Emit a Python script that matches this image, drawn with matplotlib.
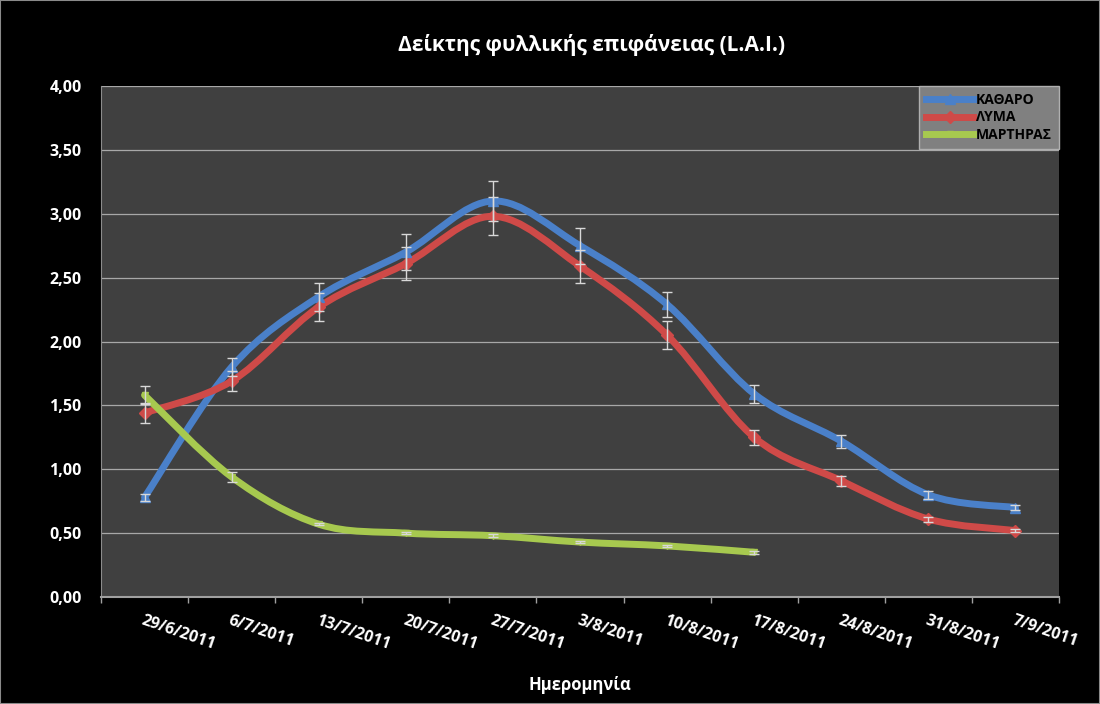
import numpy as np
import matplotlib.pyplot as plt
from matplotlib.path import Path
from matplotlib.patches import PathPatch, Rectangle
from matplotlib.lines import Line2D
from matplotlib.ticker import FuncFormatter, FixedLocator

dates = ['29/6/2011', '6/7/2011', '13/7/2011', '20/7/2011', '27/7/2011', '3/8/2011',
         '10/8/2011', '17/8/2011', '24/8/2011', '31/8/2011', '7/9/2011']

katharo = [0.78, 1.80, 2.35, 2.70, 3.10, 2.75, 2.29, 1.59, 1.22, 0.80, 0.70]
katharo_err = [0.03, 0.07, 0.11, 0.14, 0.16, 0.14, 0.10, 0.07, 0.05, 0.03, 0.02]
lyma = [1.44, 1.69, 2.27, 2.61, 2.98, 2.59, 2.05, 1.25, 0.91, 0.61, 0.52]
lyma_err = [0.08, 0.08, 0.11, 0.13, 0.15, 0.13, 0.11, 0.06, 0.04, 0.02, 0.01]
martiras = [1.58, 0.94, 0.57, 0.50, 0.48, 0.43, 0.40, 0.35]
martiras_err = [0.07, 0.04, 0.01, 0.01, 0.01, 0.01, 0.01, 0.01]

FONT = ['Open Sans', 'DejaVu Sans']
plt.rcParams['font.family'] = FONT
plt.rcParams['font.weight'] = 'bold'


def smooth_path(x, y):
    # excel style smoothed line as cubic bezier segments
    pts = np.column_stack([x, y]).astype(float)
    n = len(pts)
    verts = [pts[0]]
    codes = [Path.MOVETO]
    for i in range(n - 1):
        p0 = pts[i - 1] if i > 0 else pts[i]
        p1 = pts[i]
        p2 = pts[i + 1]
        p3 = pts[i + 2] if i + 2 < n else pts[i + 1]
        verts += [p1 + (p2 - p0) / 6, p2 - (p3 - p1) / 6, p2]
        codes += [Path.CURVE4] * 3
    return Path(verts, codes)


fig = plt.figure(figsize=(11, 7.04), dpi=100, facecolor='black')
ax = fig.add_axes([101 / 1100, 1 - 597 / 704, 958 / 1100, 511 / 704])
ax.set_facecolor('#404040')
fig.patches.append(Rectangle((0, 0), 1, 1, transform=fig.transFigure, fill=False,
                             edgecolor='#8a8a8a', lw=1.5))

series = [
    ('ΚΑΘΑΡΟ', katharo, katharo_err, '#4a80c9', '^', 7),
    ('ΛΥΜΑ', lyma, lyma_err, '#cf4a48', 'D', 6),
    ('ΜΑΡΤΗΡΑΣ', martiras, martiras_err, '#a7c94f', 'v', 5),
]

handles = []
for name, vals, errs, col, mk, ms in series:
    x = np.arange(1, len(vals) + 1)
    ax.add_patch(PathPatch(smooth_path(x, vals), fill=False, edgecolor=col, lw=5,
                           capstyle='round', joinstyle='round', zorder=3))
    ax.plot(x, vals, linestyle='none', marker=mk, ms=ms, color=col,
            markeredgecolor=col, zorder=4)
    ax.errorbar(x, vals, yerr=errs, fmt='none', ecolor='#d8d8d8', elinewidth=1,
                capsize=3.5, capthick=1, zorder=5)
    handles.append(Line2D([], [], color=col, lw=5, marker=mk, ms=ms, label=name))

ax.set_xlim(0.5, len(dates) + 0.5)
ax.set_ylim(0, 4)
ax.set_yticks(np.arange(0, 4.01, 0.5))
ax.yaxis.set_major_formatter(FuncFormatter(lambda v, p: f'{v:.2f}'.replace('.', ',')))
ax.grid(axis='y', color='#a8a8a8', lw=0.9)
ax.set_axisbelow(True)

ax.xaxis.set_major_locator(FixedLocator(np.arange(0.5, len(dates) + 1, 1)))
ax.set_xticklabels([])
ax.tick_params(axis='x', colors='#a0a0a0', length=4, width=1)
ax.tick_params(axis='y', colors='white', length=0, labelsize=11.5, pad=14)
for lbl in ax.get_yticklabels():
    lbl.set_fontweight('bold')

for i, d in enumerate(dates):
    ax.annotate(d, xy=(i + 1, 0), xycoords=('data', 'axes fraction'),
                xytext=(0, -11), textcoords='offset points', rotation=-19,
                rotation_mode='anchor', ha='left', va='top', color='white',
                fontsize=11.5, fontweight='bold')

for side in ['top', 'right']:
    ax.spines[side].set_visible(False)
ax.spines['left'].set_color('#8c8c8c')
ax.spines['bottom'].set_color('#a0a0a0')
ax.spines['bottom'].set_linewidth(1.5)

fig.text(592 / 1100, 1 - 45 / 704, 'Δείκτης φυλλικής επιφάνειας (L.A.I.)', color='white',
         fontsize=15, fontweight='bold', ha='center', va='center')
fig.text(580 / 1100, 1 - 685 / 704, 'Ημερομηνία', color='white', fontsize=12,
         fontweight='bold', ha='center', va='center')

leg = ax.legend(handles=handles, loc='upper right', bbox_to_anchor=(1.0, 1.0),
                borderaxespad=0, frameon=True, fancybox=False,
                handlelength=3.4, handletextpad=0.2, labelspacing=0.25,
                borderpad=0.5, prop={'weight': 'bold', 'size': 10, 'family': FONT})
leg.get_frame().set_facecolor('#808080')
leg.get_frame().set_edgecolor('#b0b0b0')
leg.get_frame().set_alpha(1)
for t in leg.get_texts():
    t.set_color('black')

fig.savefig('out.png', dpi=100, facecolor='black')
